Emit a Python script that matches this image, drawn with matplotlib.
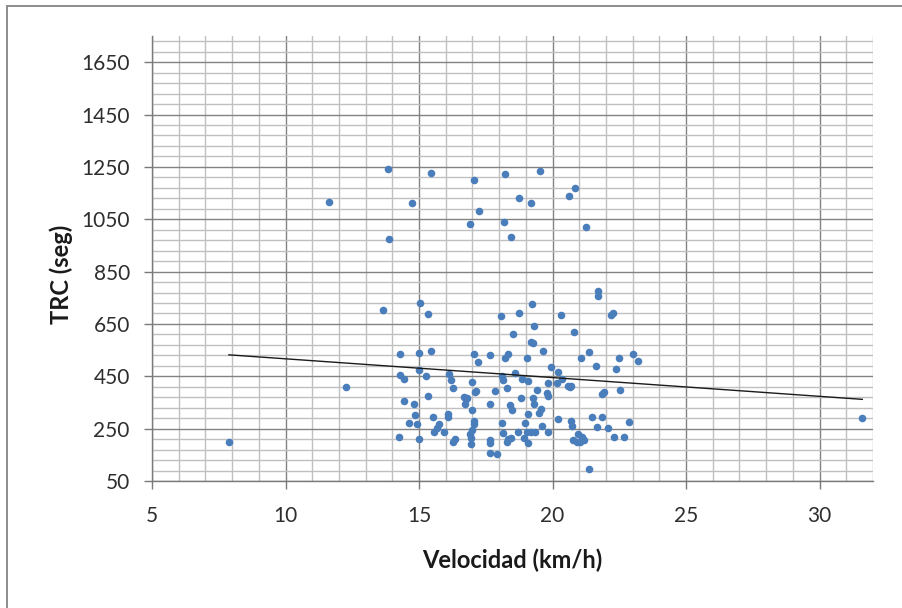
import numpy as np
import matplotlib
matplotlib.use("Agg")
import matplotlib.pyplot as plt
from matplotlib.patches import Rectangle
from matplotlib.ticker import FixedLocator

plt.rcParams['font.family'] = ['Lato', 'DejaVu Sans']

# ---- data ----
velocidad = [
    7.88, 11.63, 12.27, 31.6,
    13.85, 15.46, 17.06, 18.23, 19.54, 20.85, 20.62, 14.74, 18.73, 19.18,
    17.23, 16.91, 18.18, 21.25, 13.89, 18.45,
    13.66, 15.03, 15.34, 18.06, 18.73, 19.23, 20.3, 21.72, 21.72, 22.2,
    22.25, 18.5, 19.31, 20.81,
    14.3, 15.01, 15.44, 17.06, 17.2, 17.65, 18.22, 18.32, 15.01, 14.3,
    14.44, 15.26, 16.13, 16.2, 16.26, 16.97, 17.14, 17.08, 18.09, 18.14,
    18.28, 17.83, 15.35, 14.44, 14.8, 16.7, 16.8, 16.75, 16.72, 16.97,
    17.65, 18.42, 18.49, 14.84, 15.51, 16.1, 16.1, 17.06, 17.05, 18.09,
    14.61, 14.94, 15.75, 15.66, 15.56, 15.94, 17.0, 16.91, 18.14, 14.25,
    14.99, 16.33, 16.26, 16.93, 16.93, 17.66, 17.66, 18.34, 18.43, 18.28,
    17.66, 17.91,
    19.18, 19.26, 19.64, 19.04, 21.35, 21.07, 21.62, 23.02, 22.48, 23.2,
    22.39, 19.94, 20.21, 20.36, 18.59, 18.87, 19.07, 19.84, 20.15, 20.56,
    20.67, 20.7, 19.4, 21.84, 21.92, 22.52, 19.78, 19.84, 18.82, 19.25,
    19.31, 19.56, 19.5, 19.07, 20.21, 20.69, 20.71, 21.48, 21.85, 21.65,
    22.08, 22.88, 18.98, 19.59, 18.71, 19.04, 19.19, 19.34, 19.84, 18.93,
    19.07, 20.96, 21.11, 20.77, 20.9, 21.02, 21.17, 22.3, 22.66, 21.35,
]
trc = [
    200, 1117, 409, 290,
    1242, 1227, 1200, 1222, 1236, 1171, 1139, 1113, 1133, 1113,
    1082, 1032, 1041, 1021, 976, 981,
    702, 729, 688, 679, 693, 725, 684, 777, 757, 684,
    693, 612, 642, 620,
    535, 540, 546, 536, 505, 530, 521, 534, 474, 455,
    441, 451, 458, 436, 407, 429, 395, 389, 451, 436,
    407, 394, 376, 357, 345, 372, 368, 362, 345, 321,
    345, 339, 321, 303, 293, 305, 293, 279, 268, 273,
    273, 267, 268, 251, 237, 237, 245, 230, 232, 217,
    212, 212, 198, 213, 191, 207, 194, 209, 215, 200,
    158, 152,
    582, 576, 546, 520, 542, 519, 488, 534, 520, 509,
    478, 484, 465, 441, 464, 439, 432, 426, 423, 413,
    408, 413, 398, 382, 391, 398, 385, 376, 368, 368,
    344, 325, 311, 306, 286, 280, 260, 296, 295, 257,
    252, 274, 273, 260, 237, 237, 237, 237, 237, 213,
    196, 228, 219, 207, 200, 200, 207, 217, 217, 95,
]
# linear trend line: TRC = intercept + slope * v
trend_slope = -7.17
trend_intercept = 588.5

x_ticks = [5, 10, 15, 20, 25, 30]
y_ticks = [50, 250, 450, 650, 850, 1050, 1250, 1450, 1650]
x_label = "Velocidad (km/h)"
y_label = "TRC (seg)"

# ---- figure ----
W, H = 902, 608
fig = plt.figure(figsize=(W / 100, H / 100), dpi=100)
ax = fig.add_axes([152 / W, 1 - 481 / H, (873 - 152) / W, (481 - 36) / H])

ax.set_xlim(5, 32)
ax.set_ylim(50, 1750)

ax.xaxis.set_major_locator(FixedLocator(x_ticks))
ax.xaxis.set_minor_locator(FixedLocator(np.arange(5, 33, 1)))
ax.yaxis.set_major_locator(FixedLocator(y_ticks))
ax.yaxis.set_minor_locator(FixedLocator(np.arange(50, 1751, 40)))

ax.grid(which='minor', color='#c0c0c0', linewidth=1.0, zorder=0)
ax.grid(which='major', color='#828282', linewidth=1.0, zorder=0.5)
ax.set_axisbelow(True)

for s in ['top', 'right']:
    ax.spines[s].set_visible(False)
for s in ['left', 'bottom']:
    ax.spines[s].set_color('#7a7a7a')
    ax.spines[s].set_linewidth(1.0)

ax.tick_params(which='minor', length=0)
ax.tick_params(which='major', length=6, width=1.0, color='#7a7a7a',
               labelsize=15, labelcolor='#2e2e2e')
ax.tick_params(axis='y', which='major', pad=10)
ax.tick_params(axis='x', which='major', pad=12)

ax.scatter(velocidad, trc, s=30, color='#4a7ebb', linewidths=0, zorder=3)

xv = np.array([min(velocidad), max(velocidad)])
ax.plot(xv, trend_intercept + trend_slope * xv, color='#1a1a1a',
        linewidth=1.0, zorder=4)

ax.set_xlabel(x_label, fontsize=17, fontweight='bold', color='#1a1a1a',
              labelpad=16)
ax.set_ylabel(y_label, fontsize=17, fontweight='bold', color='#1a1a1a',
              labelpad=6)
ax.yaxis.label.set_y(0.465)

# outer chart border (left and top visible)
fig.add_artist(Rectangle((7.5 / W, -0.05), 1.2, 1 - 6 / H + 0.05,
                         transform=fig.transFigure, fill=False,
                         edgecolor='#8c8c8c', linewidth=1.4, clip_on=False))

fig.savefig('out.png', dpi=100)
